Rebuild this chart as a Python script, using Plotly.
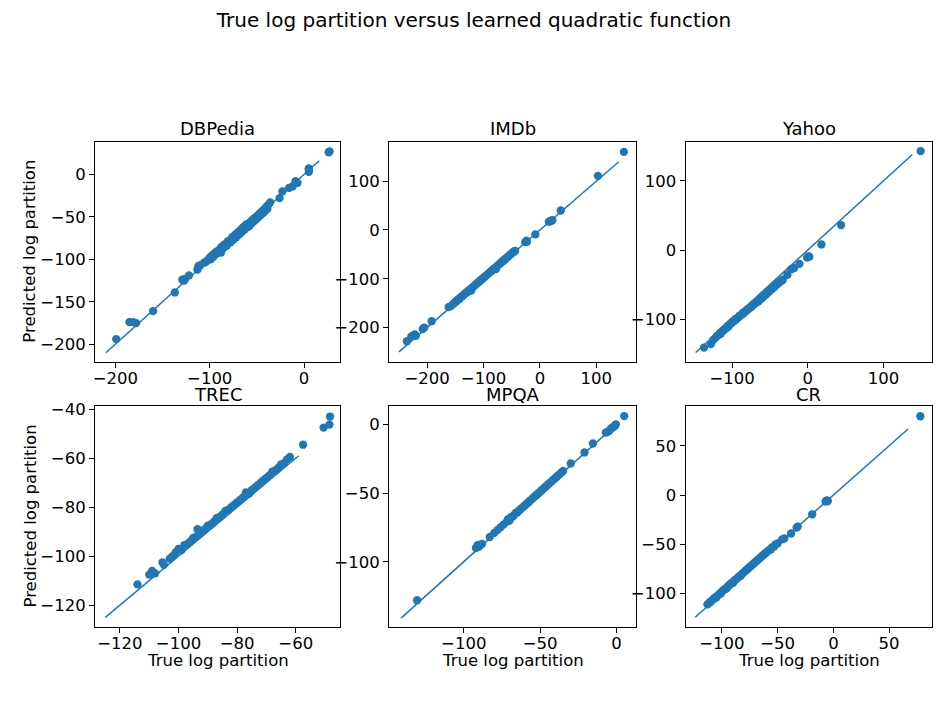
import plotly.graph_objects as go

# subplot names, in reading order
names = ["DBPedia", "IMDb", "Yahoo", "TREC", "MPQA", "CR"]

# true / predicted log partition
dbpedia_true = [-199, -185, -181, -178, -160, -137, -129, -127, -126, -122, -113, -112, -110, -106, -104,
                -102, -100, -99, -98, -97, -96, -95, -94, -93, -92, -91, -90, -89, -88, -88,
                -87, -86, -85, -84, -83, -82, -81, -80, -79, -78, -77, -76, -75, -74, -73,
                -72, -71, -70, -69, -68, -67, -66, -65, -64, -63, -62, -61, -60, -59, -58,
                -57, -56, -55, -54, -53, -52, -51, -50, -49, -48, -47, -46, -45, -44, -43,
                -42, -41, -40, -39, -38, -36, -26, -23, -16, -12, -9, -7, 5, 5, 5, 26, 27]
dbpedia_pred = [-194, -174, -174, -175, -161, -139, -124, -125, -123, -119, -112, -108, -107, -104, -103,
                -101, -98, -100, -96, -95, -97, -93, -94, -91, -93, -90, -89, -91, -86, -92,
                -85, -87, -83, -85, -82, -84, -79, -80, -78, -80, -76, -74, -77, -73, -71,
                -74, -70, -68, -71, -67, -65, -68, -63, -62, -65, -60, -59, -62, -58, -61,
                -56, -58, -54, -56, -52, -54, -50, -52, -48, -50, -46, -48, -44, -46, -42,
                -44, -40, -38, -41, -36, -33, -28, -20, -16, -14, -8, -10, 3, 6, 7, 26, 27]

imdb_true = [-236, -228, -224, -222, -220, -208, -205, -192, -162, -158, -155, -152, -150, -148, -146,
             -144, -142, -140, -138, -136, -134, -132, -130, -128, -126, -124, -122, -120, -118, -116,
             -114, -112, -110, -108, -106, -104, -102, -100, -98, -96, -94, -92, -90, -88, -86,
             -84, -82, -80, -78, -76, -74, -72, -70, -68, -66, -64, -62, -60, -58, -56,
             -54, -52, -50, -48, -46, -44, -26, -24, -23, -8, 16, 18, 20, 22, 37, 103, 149]
imdb_pred = [-228, -218, -216, -214, -217, -203, -200, -187, -158, -156, -153, -150, -147, -146, -143,
             -142, -140, -137, -136, -134, -131, -130, -128, -126, -124, -122, -124, -118, -116, -114,
             -112, -110, -108, -106, -104, -102, -100, -98, -96, -94, -92, -90, -88, -86, -84,
             -82, -80, -78, -80, -74, -72, -70, -68, -66, -64, -62, -60, -58, -56, -54,
             -52, -50, -48, -46, -44, -43, -25, -22, -24, -9, 17, 18, 19, 20, 40, 111, 160]

yahoo_true = [-137, -128, -125, -122, -120, -118, -116, -115, -113, -111, -110, -108, -106, -105, -103,
              -101, -100, -98, -96, -95, -93, -91, -90, -88, -86, -85, -83, -81, -80, -78,
              -76, -75, -73, -71, -70, -68, -66, -65, -63, -61, -60, -58, -56, -55, -53,
              -51, -50, -48, -46, -45, -43, -41, -40, -38, -35, -33, -27, -22, -18, -11,
              -1, 1, 2, 18, 44, 149]
yahoo_pred = [-141, -136, -130, -127, -124, -123, -120, -121, -117, -116, -114, -113, -110, -111, -107,
              -106, -104, -103, -100, -101, -98, -97, -95, -94, -91, -92, -89, -88, -86, -85,
              -83, -83, -80, -79, -77, -76, -74, -74, -71, -70, -68, -67, -64, -64, -61,
              -60, -58, -57, -55, -54, -52, -50, -49, -47, -45, -43, -36, -28, -26, -20,
              -11, -9, -10, 8, 36, 143]

trec_true = [-114, -110, -109, -108, -105.5, -105, -103, -102, -101, -100, -99, -98, -97, -96, -95,
             -94, -93.5, -93, -92, -91, -90, -89, -88, -87, -86, -85, -84, -83, -82, -81,
             -80, -79, -78, -77, -76, -75, -74, -73, -72, -71, -70, -69, -68, -67, -66,
             -65, -64, -63, -62, -57.5, -50.5, -48.5, -48.3]
trec_pred = [-111.5, -107.5, -106, -107, -102.5, -103.5, -101, -100, -98.5, -97, -97.5, -95.5, -95, -94, -92.5,
             -92, -89, -91, -90, -89, -87.5, -87, -86, -84.5, -84, -83, -81.5, -81, -80, -79,
             -78, -77, -76, -74, -74.5, -73, -72, -71, -70, -69, -68, -67, -65.5, -65, -64,
             -62.5, -62, -60.5, -59.5, -54.5, -47.5, -46.3, -43]

mpqa_true = [-130.5, -92, -91, -90, -89, -88, -83, -80, -78, -76, -74, -72, -71, -70, -69,
             -68, -67, -66, -65, -64, -63, -62, -61, -60, -59, -58, -57, -56, -55, -54,
             -53, -52, -51, -50, -49, -48, -47, -46, -45, -44, -43, -42, -41, -40, -39,
             -38, -37, -36, -35, -30, -21, -15.5, -7, -6, -5, -4, -3, -2, -1, -0.5, 5]
mpqa_pred = [-128, -90, -88, -89, -87.5, -87, -82, -79, -77, -75, -73, -71, -69, -70, -67.5,
             -67, -66, -64.5, -64, -63, -62, -61, -60, -59, -58, -57, -56, -55, -54, -53,
             -52, -51, -50, -49, -48, -47, -46, -45, -44, -43, -42, -41, -40, -39, -38,
             -37, -36, -35, -34, -28.5, -20.5, -14, -6, -5.5, -5, -3.5, -2.5, -2, -1, 0, 6]

cr_true = [-113, -111, -110, -108, -107, -106, -105, -104, -103, -102, -101, -100, -99, -98, -97,
           -96, -95, -94, -93, -92, -91, -90, -89, -88, -87, -86, -85, -84, -83, -82,
           -81, -80, -79, -78, -77, -76, -75, -74, -73, -72, -71, -70, -69, -68, -67,
           -66, -65, -64, -63, -62, -61, -60, -58, -56, -55, -53, -52, -50, -46, -44,
           -38, -33, -32, -19, -7, -6, -5, 78]
cr_pred = [-111, -109, -108, -106, -105, -104, -104, -102, -101, -100, -100, -98, -97, -96, -95,
           -95, -93, -92, -91, -90, -89, -89, -87, -86, -85, -84, -83, -82, -82, -80,
           -79, -78, -77, -76, -75, -74, -73, -72, -71, -70, -69, -68, -67, -66, -65,
           -64, -63, -62, -61, -60, -59, -58, -56, -55, -53, -52, -50, -49, -45, -44,
           -39, -33, -32, -19.5, -6.5, -5.5, -6, 80]

# ends of the reference (identity) line in each panel
line_ends = [[-210, 16], [-250, 140], [-148, 138], [-125, -59], [-141, 1], [-124, 67]]

true_vals = [dbpedia_true, imdb_true, yahoo_true, trec_true, mpqa_true, cr_true]
pred_vals = [dbpedia_pred, imdb_pred, yahoo_pred, trec_pred, mpqa_pred, cr_pred]

# axis ranges and tick steps
x_ranges = [[-221.5, 38], [-267.7, 170.5], [-161.5, 163.6], [-128.5, -44.9], [-148.9, 12.7], [-132.7, 88.2]]
y_ranges = [[-220.5, 38.4], [-270, 181], [-161.4, 156.5], [-128.9, -38.7], [-147.5, 13.3], [-133.9, 90.4]]
x_dticks = [100, 100, 100, 20, 50, 50]
y_dticks = [50, 100, 100, 20, 50, 50]

W, H = 948, 717
col_px = [(95, 340), (389, 636), (685.5, 931.7)]
row_px = [(141.7, 361.7), (406, 627)]
title_px = [129, 394]

blue = "#1f77b4"
font = "DejaVu Sans"
tick_size = 16.5

fig = go.Figure()
axis_style = dict(showgrid=False, zeroline=False, showline=True, mirror=True,
                  linecolor="black", linewidth=1, ticks="outside", ticklen=5,
                  tickwidth=1, tickcolor="black",
                  tickfont=dict(size=tick_size, color="black", family=font),
                  automargin=False)
annotations = []

for i, name in enumerate(names):
    r, c = divmod(i, 3)
    n = i + 1
    xa = "x" if n == 1 else f"x{n}"
    ya = "y" if n == 1 else f"y{n}"

    fig.add_trace(go.Scatter(x=true_vals[i], y=pred_vals[i], mode="markers",
                             marker=dict(color=blue, size=8.3, line=dict(width=0)),
                             xaxis=xa, yaxis=ya, showlegend=False))
    fig.add_trace(go.Scatter(x=line_ends[i], y=line_ends[i], mode="lines",
                             line=dict(color=blue, width=1.5),
                             xaxis=xa, yaxis=ya, showlegend=False))

    x0, x1 = col_px[c]
    y0, y1 = row_px[r]
    fig.layout[f"xaxis{'' if n == 1 else n}"] = dict(axis_style, domain=[x0 / W, x1 / W],
                                                      range=x_ranges[i], dtick=x_dticks[i],
                                                      ticklabelstandoff=-4, anchor=ya)
    fig.layout[f"yaxis{'' if n == 1 else n}"] = dict(axis_style, domain=[1 - y1 / H, 1 - y0 / H],
                                                      range=y_ranges[i], dtick=y_dticks[i], anchor=xa)

    xc = (x0 + x1) / 2 / W
    annotations.append(dict(text=name, x=xc, y=1 - title_px[r] / H, xref="paper", yref="paper",
                            xanchor="center", yanchor="middle", showarrow=False,
                            font=dict(size=18, color="black", family=font)))
    if r == 1:
        annotations.append(dict(text="True log partition", x=xc, y=1 - 660 / H,
                                xref="paper", yref="paper", xanchor="center", yanchor="middle",
                                showarrow=False, font=dict(size=tick_size, color="black", family=font)))
    if c == 0:
        annotations.append(dict(text="Predicted log partition", x=30 / W, y=1 - (y0 + y1) / 2 / H,
                                xref="paper", yref="paper", xanchor="center", yanchor="middle",
                                textangle=-90, showarrow=False,
                                font=dict(size=tick_size, color="black", family=font)))

fig.update_layout(
    width=W, height=H,
    margin=dict(l=0, r=0, t=0, b=0),
    paper_bgcolor="white", plot_bgcolor="white",
    font=dict(family=font, color="black"),
    title=dict(text="True log partition versus learned quadratic function",
               x=0.5, xanchor="center", y=1 - 20 / H, yanchor="middle",
               font=dict(size=20, color="black", family=font)),
    annotations=annotations,
    hovermode=False,
)

# drop the page's default body margin so the figure sits at the window's corner
fig.write_html("out.html", config={"displayModeBar": False},
               post_script="document.body.style.margin='0px';")
